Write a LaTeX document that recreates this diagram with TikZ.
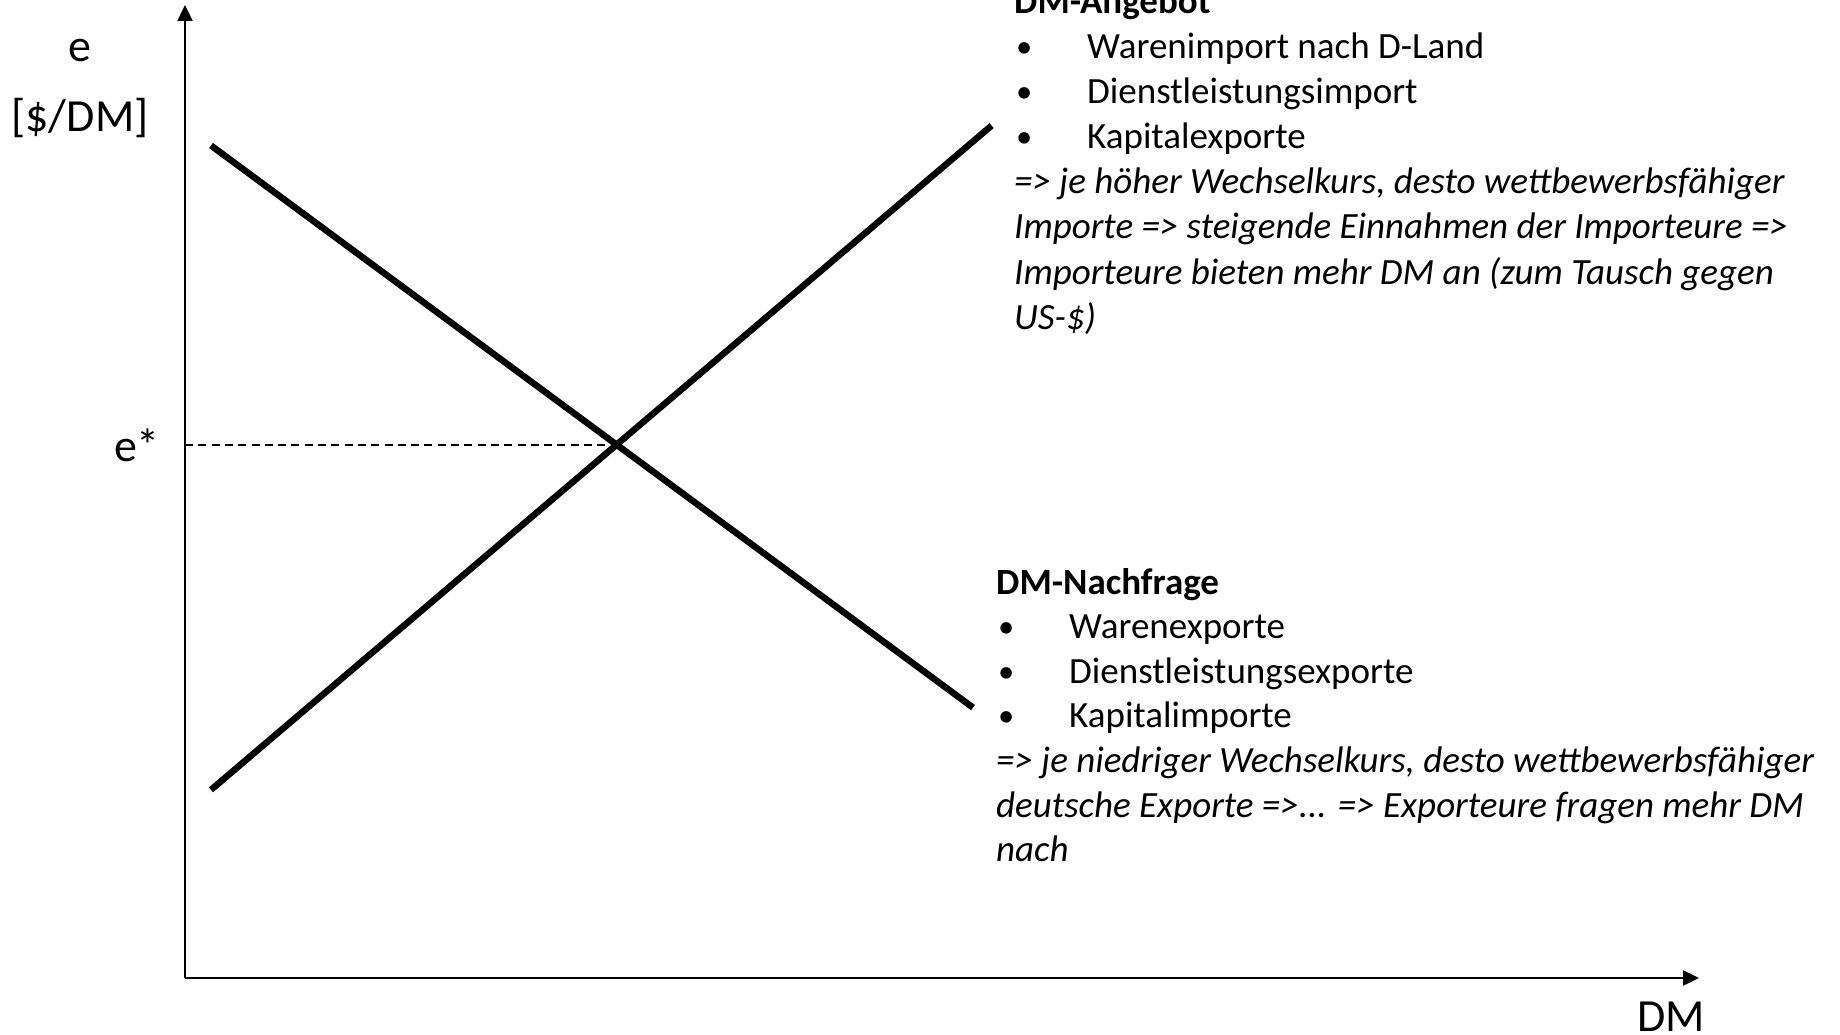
\documentclass[tikz,border=0pt]{standalone}
\usepackage{fontspec}
\setmainfont{Carlito}
\usetikzlibrary{arrows.meta}
\newcommand\bulletitem[1]{\makebox[73pt][l]{\hspace{2pt}\raisebox{1pt}{\scalebox{0.88}{\textbullet}}}#1}
\begin{document}
\begin{tikzpicture}[x=1pt,y=-1pt,
  axis/.style={line width=2.4pt,-{Triangle[length=16pt,width=15pt]}},
  curve/.style={line width=6.5pt},
  guide/.style={line width=2pt,dash pattern=on 8pt off 5.3pt},
  axislabel/.style={inner sep=0pt,font=\fontsize{46}{56}\selectfont},
  body/.style={inner sep=0pt,anchor=base west,font=\fontsize{37}{45}\selectfont},
  ]
\useasboundingbox (0,0) rectangle (1840,1035);
\clip (0,0) rectangle (1840,1035);

% axes
\coordinate (O) at (185,978);
\coordinate (ytip) at (185,5);
\coordinate (xtip) at (1699,978);
\draw[axis] (O) -- (ytip);
\draw[axis] (O) -- (xtip);

% demand and supply lines
\coordinate (D1) at (211,145.5);
\coordinate (D2) at (973,707.6);
\coordinate (S1) at (211,789.8);
\coordinate (S2) at (991.6,125.6);
\draw[curve] (D1) -- (D2);
\draw[curve] (S1) -- (S2);
\coordinate (X) at (intersection of D1--D2 and S1--S2);
\draw[guide] (O |- X) -- (X);

% axis labels
\node[axislabel,anchor=base] (elab) at (80,62) {e};
\node[axislabel,anchor=base] (eunit) at (80,132) {[\$/DM]};
\node[axislabel,anchor=base east] (estar) at (160,461) {e*};
\node[axislabel,anchor=base] (dmlab) at (1671,1031) {DM};

% supply of DM
\node[body] (ang0) at (1014,14) {\bfseries DM-Angebot};
\node[body] (ang1) at (1014,59) {\bulletitem{Warenimport nach D-Land}};
\node[body] (ang2) at (1014,104) {\bulletitem{Dienstleistungsimport}};
\node[body] (ang3) at (1014,149) {\bulletitem{Kapitalexporte}};
\node[body] (ang4) at (1014,194) {\itshape => je höher Wechselkurs, desto wettbewerbsfähiger};
\node[body] (ang5) at (1014,239) {\itshape Importe => steigende Einnahmen der Importeure =>};
\node[body] (ang6) at (1014,284) {\itshape Importeure bieten mehr DM an (zum Tausch gegen};
\node[body] (ang7) at (1014,329) {\itshape US-\$)};

% demand for DM
\node[body] (nach0) at (996,594) {\bfseries DM-Nachfrage};
\node[body] (nach1) at (996,638.6) {\bulletitem{Warenexporte}};
\node[body] (nach2) at (996,683.2) {\bulletitem{Dienstleistungsexporte}};
\node[body] (nach3) at (996,727.8) {\bulletitem{Kapitalimporte}};
\node[body] (nach4) at (996,772.4) {\itshape => je niedriger Wechselkurs, desto wettbewerbsfähiger};
\node[body] (nach5) at (996,817) {\itshape deutsche Exporte =>... => Exporteure fragen mehr DM};
\node[body] (nach6) at (996,861.6) {\itshape nach};
\end{tikzpicture}
\end{document}
